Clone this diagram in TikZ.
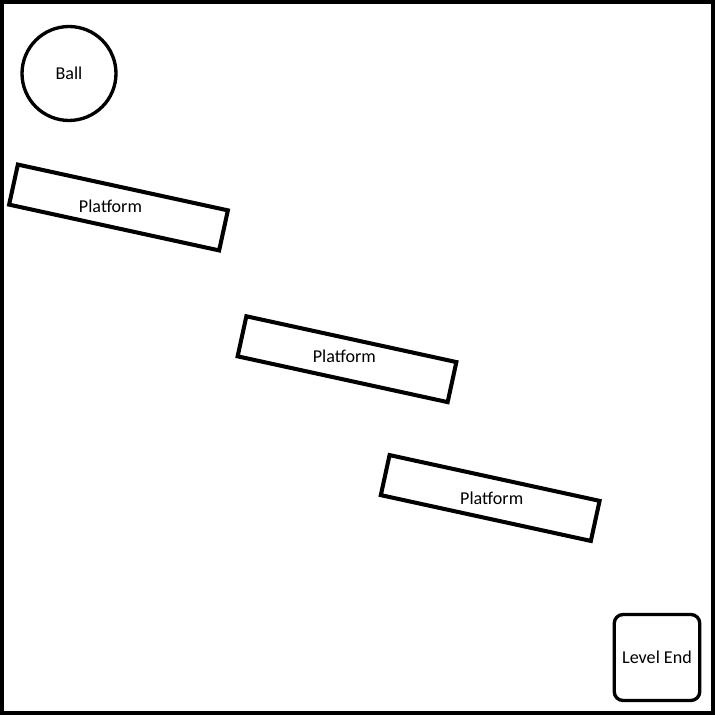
\documentclass[tikz,border=0pt]{standalone}
\usepackage{fontspec}
\setmainfont{Carlito}

\tikzset{
  platform/.style={draw, line width=2.3pt, rectangle, minimum width=4.3cm, minimum height=0.82cm, inner sep=0pt},
  lbl/.style={font=\fontsize{10.3}{12}\selectfont, inner sep=0pt},
}

\begin{document}
\begin{tikzpicture}[x=0.02cm, y=-0.02cm]
  \useasboundingbox (0,0) rectangle (715,715);
  % Frame
  \draw[line width=2.4pt] (2,2) rectangle (713,713);
  % Ball
  \node[draw, circle, line width=1.9pt, minimum size=1.88cm, inner sep=0pt] (ball) at (69,73.5) {};
  \node[lbl] (ballText) at (ball) {Ball};
  % Platforms
  \node[platform, rotate=-12.3] (plat1) at (118.5,207.5) {};
  \node[lbl] (plat1Text) at (110.5,206.5) {Platform};
  \node[platform, rotate=-12.3] (plat2) at (347,359.2) {};
  \node[lbl] (plat2Text) at (344.3,356.7) {Platform};
  \node[platform, rotate=-12.3] (plat3) at (490.2,498) {};
  \node[lbl] (plat3Text) at (491.7,498.3) {Platform};
  % Level end
  \node[draw, rectangle, rounded corners=5pt, line width=1.9pt, minimum width=1.71cm, minimum height=1.72cm, inner sep=0pt] (levelEnd) at (657,657.5) {};
  \node[lbl] (levelEndText) at (levelEnd) {Level End};
\end{tikzpicture}
\end{document}
